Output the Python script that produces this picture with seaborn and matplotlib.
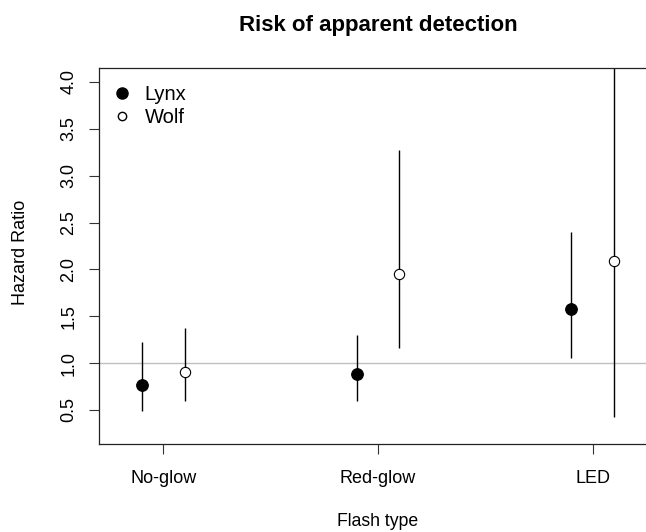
import matplotlib
matplotlib.use("Agg")
import matplotlib.pyplot as plt
import seaborn as sns
import pandas as pd
import numpy as np

flash_types = ["No-glow", "Red-glow", "LED"]
species = ["Lynx", "Wolf"]
lynx_hr = [0.765, 0.88, 1.58]
lynx_lo = [0.49, 0.595, 1.05]
lynx_hi = [1.23, 1.305, 2.395]
wolf_hr = [0.90, 1.95, 2.09]
wolf_lo = [0.60, 1.165, 0.43]
wolf_hi = [1.37, 3.27, 4.60]
y_ticks = [0.5, 1.0, 1.5, 2.0, 2.5, 3.0, 3.5, 4.0]

sns.set_style("white")
plt.rcParams['font.family'] = ['Liberation Sans', 'DejaVu Sans']
plt.rcParams['text.color'] = 'black'
plt.rcParams['xtick.color'] = 'black'
plt.rcParams['ytick.color'] = 'black'

rows = []
for i, ft in enumerate(flash_types):
    rows.append(dict(flash=ft, idx=i + 1, species="Lynx", hr=lynx_hr[i], lo=lynx_lo[i], hi=lynx_hi[i]))
    rows.append(dict(flash=ft, idx=i + 1, species="Wolf", hr=wolf_hr[i], lo=wolf_lo[i], hi=wolf_hi[i]))
df = pd.DataFrame(rows)
offsets = {"Lynx": -0.1, "Wolf": 0.1}
df["x"] = df["idx"] + df["species"].map(offsets)

W, H = 646, 532
fig = plt.figure(figsize=(W / 100, H / 100), dpi=100)
ax = fig.add_axes([99 / W, (H - 444) / H, (657 - 99) / W, (444 - 68) / H])

ax.axhline(1.0, color="#c0c0c0", lw=1.0, zorder=1)
ax.vlines(df["x"], df["lo"], df["hi"], color="black", lw=1.0, zorder=2)

lynx = df[df["species"] == "Lynx"]
wolf = df[df["species"] == "Wolf"]
sns.scatterplot(data=lynx, x="x", y="hr", ax=ax, color="black", s=70,
                marker="o", edgecolor="black", linewidth=0.8, zorder=3, legend=False)
sns.scatterplot(data=wolf, x="x", y="hr", ax=ax, facecolor="white", s=55,
                marker="o", edgecolor="black", linewidth=0.8, zorder=3, legend=False)

ax.set_xlim(0.7, 3.3)
ax.set_ylim(0.137, 4.149)
ax.set_xticks([1, 2, 3])
ax.set_xticklabels(flash_types)
ax.set_yticks(y_ticks)
ax.set_yticklabels([f"{v:.1f}" for v in y_ticks], rotation=90, va="center")
ax.tick_params(axis="both", direction="out", length=7.5, width=0.8, color="#333333",
               labelsize=13, left=True, bottom=True)
ax.tick_params(axis="x", pad=11)
ax.tick_params(axis="y", pad=8)
ax.set_xlabel("")
ax.set_ylabel("")
for s in ["left", "bottom", "top"]:
    ax.spines[s].set_color("#222222")
    ax.spines[s].set_linewidth(0.9)
ax.spines["right"].set_visible(False)

from matplotlib.lines import Line2D
handles = [Line2D([], [], marker="o", ls="", color="black", markersize=8),
           Line2D([], [], marker="o", ls="", markerfacecolor="white", markeredgecolor="black", markersize=6)]
ax.legend(handles, species, loc="upper left", frameon=False, fontsize=14.5,
          handletextpad=0.6, labelspacing=0.2, borderaxespad=0.45, handlelength=1.0,
          bbox_to_anchor=(-0.007, 1.0))

fig.text(378 / W, 1 - 25 / H, "Risk of apparent detection", ha="center", va="center",
         fontsize=16, fontweight="bold")
fig.text(378 / W, 1 - 522 / H, "Flash type", ha="center", va="center", fontsize=12.7)
fig.text(21 / W, 1 - 252 / H, "Hazard Ratio", ha="center", va="center", rotation=90, fontsize=13)

fig.savefig("out.png", dpi=100)
